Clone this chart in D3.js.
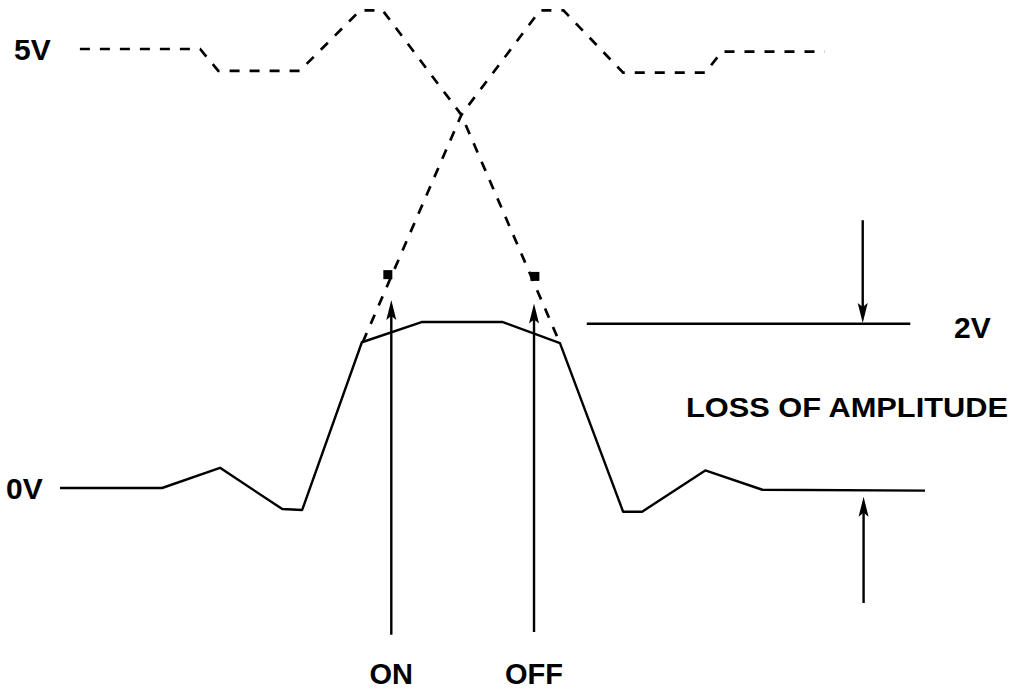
<!DOCTYPE html>
<html>
<head>
<meta charset="utf-8">
<script src="https://cdn.jsdelivr.net/npm/d3@7.9.0/dist/d3.min.js"></script>
<style>
  html, body { margin: 0; padding: 0; background: #fff; }
  svg { display: block; }
  text { font-family: "Liberation Sans", Arial, sans-serif; font-weight: bold; fill: #000; }
</style>
</head>
<body>
<svg id="chart" width="1017" height="696"></svg>
<script>
// time in arbitrary units (0..100), level in volts
const receivedT = [0, 11.8, 18.5, 25.7, 28.0, 34.9, 41.8, 51.2, 57.8, 65.1, 67.3, 74.6, 81.2, 100];
const receivedV = [0, 0, 0.23, -0.24, -0.25, 1.66, 1.89, 1.89, 1.65, -0.27, -0.27, 0.2, -0.02, -0.03];

const onEdgeT = [2.3, 16.2, 18.3, 27.7, 34.7, 37.3, 46.4, 57.8];
const onEdgeV = [5, 5, 4.75, 4.75, 5.44, 5.44, 4.25, 1.65];

const offEdgeT = [35.0, 46.4, 55.5, 58.2, 65.1, 74.6, 76.5, 88.4];
const offEdgeV = [1.66, 4.25, 5.44, 5.44, 4.73, 4.73, 4.97, 4.97];

// sample points (on / off) and their arrows
const sampleT = [37.9, 54.9];
const sampleV = [2.43, 2.41];
const sampleArrowT = [38.3, 54.8];
const sampleArrowFrom = [-1.67, -1.64];
const sampleArrowTo = [2.14, 2.10];
const sampleLabels = ['ON', 'OFF'];

// amplitude loss markers
const refLineT = [60.9, 98.3];
const refLineV = 1.87;
const lossArrowT = [92.8, 92.9];
const lossArrowFrom = [3.05, -1.31];
const lossArrowTo = [1.88, -0.1];

const levelLabels = ['5V', '0V'];
const levelValues = [5, 0];

const svg = d3.select('#chart');
const x = d3.scaleLinear().domain([0, 100]).range([60, 925]);
const y = d3.scaleLinear().domain([0, 5]).range([488, 49]);

const line = d3.line().x(d => x(d[0])).y(d => y(d[1]));
const zip = (a, b) => a.map((v, i) => [v, b[i]]);

// dashed ideal edges
[zip(onEdgeT, onEdgeV), zip(offEdgeT, offEdgeV)].forEach(pts => {
  svg.append('path')
    .attr('d', line(pts))
    .attr('fill', 'none')
    .attr('stroke', '#000')
    .attr('stroke-width', 2.7)
    .attr('stroke-dasharray', '10,10');
});

// received waveform
svg.append('path')
  .attr('d', line(zip(receivedT, receivedV)))
  .attr('fill', 'none')
  .attr('stroke', '#000')
  .attr('stroke-width', 2.4)
  .attr('stroke-linejoin', 'round');

// sample squares
sampleT.forEach((t, i) => {
  svg.append('rect')
    .attr('x', x(t) - 4.5)
    .attr('y', y(sampleV[i]) - 4.5)
    .attr('width', 9)
    .attr('height', 9)
    .attr('fill', '#000');
});

const arrow = (t, v0, v1) => {
  const px = x(t), y0 = y(v0), y1 = y(v1);
  const dir = y1 < y0 ? 1 : -1;  // 1 = pointing up
  svg.append('line')
    .attr('x1', px).attr('x2', px)
    .attr('y1', y0).attr('y2', y1 + dir * 10)
    .attr('stroke', '#000')
    .attr('stroke-width', 2.4);
  svg.append('path')
    .attr('d', `M${px},${y1} L${px - 5},${y1 + dir * 20} L${px},${y1 + dir * 16} L${px + 5},${y1 + dir * 20} Z`)
    .attr('fill', '#000');
};

sampleArrowT.forEach((t, i) => arrow(t, sampleArrowFrom[i], sampleArrowTo[i]));
lossArrowT.forEach((t, i) => arrow(t, lossArrowFrom[i], lossArrowTo[i]));

// 2V reference line
svg.append('line')
  .attr('x1', x(refLineT[0])).attr('x2', x(refLineT[1]))
  .attr('y1', y(refLineV)).attr('y2', y(refLineV))
  .attr('stroke', '#000')
  .attr('stroke-width', 2.4);

// labels
levelLabels.forEach((lab, i) => {
  svg.append('text')
    .attr('x', i === 0 ? 14 : 6)
    .attr('y', y(levelValues[i]) + 11)
    .attr('font-size', 30)
    .text(lab);
});

svg.append('text')
  .attr('x', 954)
  .attr('y', y(refLineV) + 14)
  .attr('font-size', 30)
  .text('2V');

svg.append('text')
  .attr('x', 686)
  .attr('y', 417)
  .attr('font-size', 27)
  .attr('textLength', 322)
  .attr('lengthAdjust', 'spacingAndGlyphs')
  .text('LOSS OF AMPLITUDE');

sampleLabels.forEach((lab, i) => {
  svg.append('text')
    .attr('x', x(sampleArrowT[i]))
    .attr('y', 684)
    .attr('text-anchor', 'middle')
    .attr('font-size', 29)
    .text(lab);
});
</script>
</body>
</html>
